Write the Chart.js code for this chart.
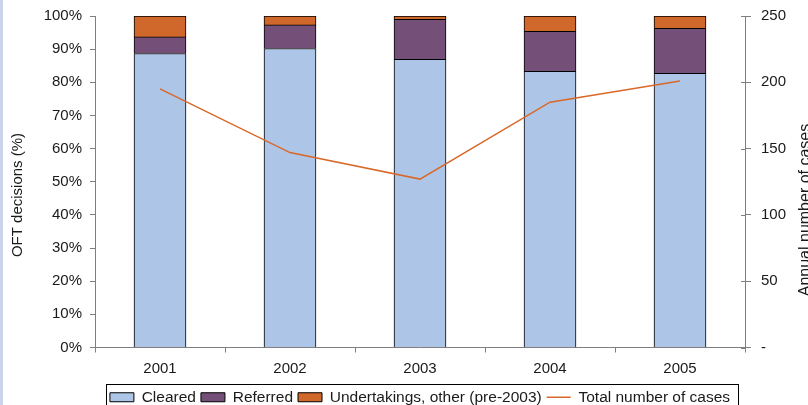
<!DOCTYPE html>
<html>
<head>
<meta charset="utf-8">
<script src="https://cdn.jsdelivr.net/npm/chart.js@4"></script>
<style>
  body { margin: 0; background: #fff; }
  #wrap { position: relative; width: 808px; height: 405px; overflow: hidden; background: #fff; }
  #strip { position: absolute; left: 0; top: 0; width: 3px; height: 405px; background: #cbd3ea; }
</style>
</head>
<body>
<div id="wrap">
  <canvas id="oftChart" width="808" height="415"></canvas>
  <div id="strip"></div>
</div>
<script>
var years = ['2001', '2002', '2003', '2004', '2005'];
var cleared = [88.7, 90.2, 86.9, 83.3, 82.7];
var referred = [5.0, 7.1, 12.1, 12.1, 13.6];
var undertakings = [6.3, 2.7, 1.0, 4.6, 3.7];
var totalCases = [195, 147, 127, 185, 201];

var FONT = '"Liberation Sans", Arial, sans-serif';
var AXIS = '#7f7f7f';
var TEXT = '#1a1a1a';

Chart.defaults.font.family = FONT;
Chart.defaults.font.size = 15;
Chart.defaults.color = TEXT;

// axis titles, legend frame and the crossing ticks on the right axis
var extras = {
    id: 'extras',
    afterDraw: function (chart) {
        var ctx = chart.ctx;
        ctx.save();
        ctx.fillStyle = TEXT;
        ctx.font = '15px ' + FONT;
        ctx.textAlign = 'center';
        ctx.textBaseline = 'middle';
        ctx.translate(18, 195);
        ctx.rotate(-Math.PI / 2);
        ctx.fillText('OFT decisions (%)', 0, 0);
        ctx.restore();

        ctx.save();
        ctx.fillStyle = TEXT;
        ctx.font = '16px ' + FONT;
        ctx.textAlign = 'center';
        ctx.textBaseline = 'middle';
        ctx.translate(806, 210);
        ctx.rotate(-Math.PI / 2);
        ctx.fillText('Annual number of cases', 0, 0);
        ctx.restore();

        var y1 = chart.scales.y1;
        ctx.save();
        ctx.strokeStyle = AXIS;
        ctx.lineWidth = 1;
        y1.ticks.forEach(function (t) {
            var py = Math.round(y1.getPixelForValue(t.value)) + 0.5;
            ctx.beginPath();
            ctx.moveTo(y1.left - 4, py);
            ctx.lineTo(y1.left, py);
            ctx.stroke();
        });
        ctx.restore();

        var hb = chart.legend.legendHitBoxes;
        if (hb && hb.length) {
            var last = hb[hb.length - 1];
            var lx = Math.round(hb[0].left - 4) + 0.5;
            var rx = Math.round(last.left + last.width + 8) + 0.5;
            var ty = Math.round(hb[0].top + hb[0].height / 2 - 13) + 0.5;
            ctx.save();
            ctx.strokeStyle = '#000';
            ctx.lineWidth = 1;
            ctx.strokeRect(lx, ty, rx - lx, 60);
            ctx.restore();
        }
    }
};

function fitSide(width) {
    return function (s) {
        s.width = width;
        s.paddingTop = 0;
        s.paddingBottom = 0;
    };
}

var oftChart = new Chart(document.getElementById('oftChart').getContext('2d'), {
    type: 'bar',
    data: {
        labels: years,
        datasets: [{
            label: 'Cleared',
            data: cleared,
            backgroundColor: '#adc5e7',
            borderColor: '#000',
            borderWidth: 1,
            pointStyle: 'rect',
            yAxisID: 'y',
            order: 1,
        }, {
            label: 'Referred',
            data: referred,
            backgroundColor: '#744f78',
            borderColor: '#000',
            borderWidth: 1,
            pointStyle: 'rect',
            yAxisID: 'y',
            order: 1,
        }, {
            label: 'Undertakings, other (pre-2003)',
            data: undertakings,
            backgroundColor: '#d0682c',
            borderColor: '#000',
            borderWidth: 1,
            pointStyle: 'rect',
            yAxisID: 'y',
            order: 1,
        }, {
            type: 'line',
            label: 'Total number of cases',
            data: totalCases,
            borderColor: '#d9692a',
            backgroundColor: '#d9692a',
            borderWidth: 1.5,
            pointRadius: 0,
            pointStyle: 'line',
            tension: 0,
            yAxisID: 'y1',
            order: 0,
        }],
    },
    options: {
        responsive: false,
        animation: false,
        devicePixelRatio: 1,
        barThickness: 52,
        layout: {
            padding: { top: 16, left: 0, right: 0, bottom: 0 },
        },
        plugins: {
            tooltip: { enabled: false },
            legend: {
                position: 'bottom',
                fullSize: false,
                labels: {
                    usePointStyle: true,
                    pointStyleWidth: 24,
                    boxHeight: 9,
                    padding: 5,
                    color: TEXT,
                    font: { size: 15.5 },
                    sort: function (a, b) { return a.datasetIndex - b.datasetIndex; },
                },
            },
        },
        scales: {
            x: {
                stacked: true,
                offset: true,
                afterFit: function (s) { s.height = 37; },
                border: { color: AXIS },
                grid: { offset: true, drawOnChartArea: false, tickLength: 5, color: AXIS },
                ticks: { padding: 7, color: TEXT },
            },
            y: {
                stacked: true,
                position: 'left',
                min: 0,
                max: 100,
                afterFit: fitSide(95),
                border: { color: AXIS },
                grid: { drawOnChartArea: false, tickLength: 5, color: AXIS },
                ticks: {
                    stepSize: 10,
                    padding: 8,
                    color: TEXT,
                    callback: function (v) { return v + '%'; },
                },
            },
            y1: {
                position: 'right',
                min: 0,
                max: 250,
                afterFit: fitSide(63),
                border: { color: AXIS },
                grid: { drawOnChartArea: false, tickLength: 6, color: AXIS },
                ticks: {
                    stepSize: 50,
                    padding: 10,
                    color: TEXT,
                    callback: function (v) { return v === 0 ? '-' : v; },
                },
            },
        },
    },
    plugins: [extras],
});
</script>
</body>
</html>
